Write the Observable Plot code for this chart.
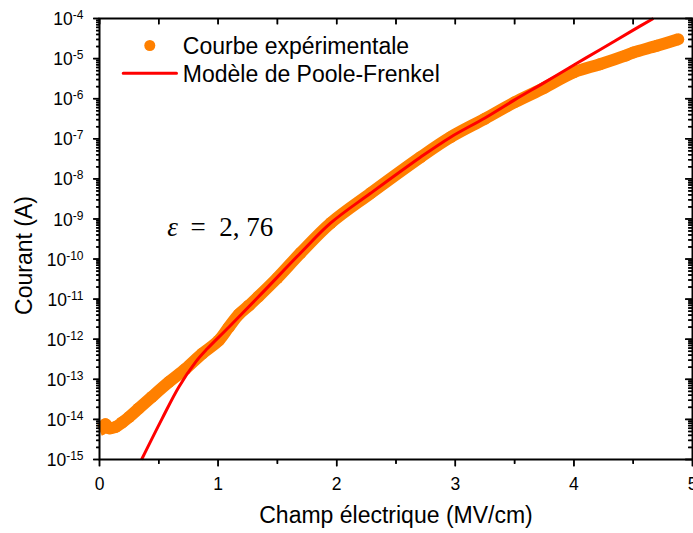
<!DOCTYPE html>
<html><head><meta charset="utf-8">
<script src="https://cdn.jsdelivr.net/npm/d3@7"></script>
<script src="https://cdn.jsdelivr.net/npm/@observablehq/plot@0.6"></script>
<style>html,body{margin:0;padding:0;background:#fff;}</style>
</head><body><div id="chart"></div>
<script>
// Experimental curve: field (MV/cm) and log10 of current (A)
const expE = [0, 0.03, 0.05, 0.08, 0.135, 0.19, 0.25, 0.33, 0.44, 0.584, 0.725, 0.866, 1.006, 1.09, 1.175, 1.26, 1.335, 1.5, 1.695, 1.95, 2.285, 2.706, 2.96, 3.25, 3.5, 3.75, 4.0, 4.22, 4.44, 4.5, 4.7, 4.88];
const expLogI = [-14.27, -14.22, -14.12, -14.22, -14.19, -14.08, -13.94, -13.73, -13.44, -13.07, -12.74, -12.36, -12.03, -11.70, -11.38, -11.16, -10.95, -10.47, -9.85, -9.10, -8.36, -7.46, -6.96, -6.50, -6.09, -5.73, -5.34, -5.14, -4.92, -4.85, -4.68, -4.52];
// Poole-Frenkel model
const pfE = [0.355, 0.528, 0.669, 0.81, 0.908, 1.09, 1.37, 1.695, 1.95, 2.285, 2.706, 2.96, 3.25, 3.5, 3.75, 4.0, 4.22, 4.5, 4.67];
const pfLogI = [-15.0, -13.98, -13.19, -12.57, -12.24, -11.70, -10.85, -9.85, -9.10, -8.36, -7.46, -6.96, -6.48, -6.03, -5.60, -5.16, -4.78, -4.29, -4.0];

const xMajorTicks = [0, 1, 2, 3, 4, 5];
const xMinorTicks = [0.5, 1.5, 2.5, 3.5, 4.5];
const yExponents = [-4, -5, -6, -7, -8, -9, -10, -11, -12, -13, -14, -15];
const yMinorMultipliers = [2, 3, 4, 5, 6, 7, 8, 9];
const legendLabels = ["Courbe expérimentale", "Modèle de Poole-Frenkel"];
const xLabel = "Champ électrique (MV/cm)";
const yLabel = "Courant (A)";
const annotationSymbol = "ε";
const annotationValue = "=\u20022, 76";

const ORANGE = "#ff8000", RED = "#ff0000";
const FW = 593, FH = 441; // frame size in px

const expData = expE.map((e, i) => ({x: e, y: 10 ** expLogI[i]}));
const pfData = pfE.map((e, i) => ({x: e, y: 10 ** pfLogI[i]}));
const yMajor = yExponents.map(k => 10 ** k);
const yMinor = [];
for (let k = -15; k < -4; k++) for (const m of yMinorMultipliers) yMinor.push(m * 10 ** k);
const xAll = [...xMajorTicks, ...xMinorTicks];

const lineShape = {draw(ctx, l) { ctx.moveTo(0, 0); ctx.lineTo(0.01, -l); }};
// filled thin-rectangle tick symbols
const tickDown = L => ({draw(ctx) { ctx.rect(-0.75, 0, 1.5, L); }});
const tickLeft = L => ({draw(ctx) { ctx.rect(-L, -0.75, L, 1.5); }});
const tsy = {fill: "black", stroke: null};
const serif = "'Liberation Serif', 'DejaVu Serif', serif";

const chart = Plot.plot({
  width: 693, height: 533,
  marginLeft: 99, marginRight: 1, marginTop: 18, marginBottom: 74,
  style: {fontFamily: "'Liberation Sans', Arial, sans-serif"},
  x: {domain: [0, 5], label: null, axis: null},
  y: {type: "log", domain: [1e-15, 1e-4], label: null, axis: null},
  marks: [
    Plot.line(expData, {x: "x", y: "y", stroke: ORANGE, strokeWidth: 12, strokeLinecap: "butt", strokeLinejoin: "round", curve: "catmull-rom"}),
    Plot.dot(expData, {x: "x", y: "y", r: 6, fill: ORANGE, filter: d => d.x >= 0.05}),
    Plot.line(pfData, {x: "x", y: "y", stroke: RED, strokeWidth: 3, strokeLinecap: "butt", curve: "catmull-rom"}),
    Plot.frame({stroke: "black", strokeWidth: 2}),
    // ticks (rules)
    Plot.ruleX(xMajorTicks, {x: d => d, insetTop: FH, insetBottom: -7, stroke: "black", strokeWidth: 1.5}),
    Plot.ruleX(xMinorTicks, {x: d => d, insetTop: FH, insetBottom: -4.5, stroke: "black", strokeWidth: 1.5}),
    Plot.ruleX(xAll, {x: d => d, insetTop: 0, insetBottom: FH - 6, stroke: "black", strokeWidth: 1.5}),
    Plot.ruleY(yMajor, {y: d => d, insetLeft: -6, insetRight: FW, stroke: "black", strokeWidth: 1.5}),
    Plot.ruleY(yMinor, {y: d => d, insetLeft: -3, insetRight: FW, stroke: "black", strokeWidth: 1.5}),
    Plot.ruleY(yMajor, {y: d => d, insetLeft: FW - 7, insetRight: 0, stroke: "black", strokeWidth: 1.5}),
    Plot.ruleY(yMinor, {y: d => d, insetLeft: FW - 4, insetRight: 0, stroke: "black", strokeWidth: 1.5}),
    // ticks (filled symbols, same positions)
    Plot.dot(xMajorTicks, {x: d => d, frameAnchor: "bottom", symbol: tickDown(7), ...tsy}),
    Plot.dot(xMinorTicks, {x: d => d, frameAnchor: "bottom", symbol: tickDown(4.5), ...tsy}),
    Plot.dot(xAll, {x: d => d, frameAnchor: "top", symbol: tickDown(6), ...tsy}),
    Plot.dot(yMajor, {y: d => d, frameAnchor: "left", symbol: tickLeft(6), ...tsy}),
    Plot.dot(yMinor, {y: d => d, frameAnchor: "left", symbol: tickLeft(3), ...tsy}),
    Plot.dot(yMajor, {y: d => d, frameAnchor: "right", symbol: tickLeft(7), ...tsy}),
    Plot.dot(yMinor, {y: d => d, frameAnchor: "right", symbol: tickLeft(4), ...tsy}),
    // tick labels
    Plot.axisX(xMajorTicks, {anchor: "bottom", tickSize: 0, tickPadding: 18, tickFormat: d => String(d), fontSize: 17.5, fill: "black", label: null}),
    Plot.axisY(yMajor, {anchor: "left", tickSize: 0, tickPadding: 16, tickFormat: d => "10^" + Math.round(Math.log10(d)), fontSize: 17.5, fill: "black", dy: 1, label: null}),
    // axis titles
    Plot.text([xLabel], {text: d => d, frameAnchor: "bottom", lineAnchor: "bottom", dy: 63, fontSize: 23, fill: "black"}),
    Plot.text([yLabel], {text: d => d, frameAnchor: "left", lineAnchor: "bottom", textAnchor: "middle", rotate: -90, dx: -68, dy: 16.5, fontSize: 23, fill: "black"}),
    // legend
    Plot.dot([0], {frameAnchor: "top-left", dx: 50.3, dy: 27, r: 5.5, fill: ORANGE}),
    Plot.text([legendLabels[0]], {text: d => d, frameAnchor: "top-left", textAnchor: "start", lineAnchor: "bottom", dx: 83.3, dy: 35.3, fontSize: 23, fill: "black"}),
    Plot.vector([0], {frameAnchor: "top-left", dx: 23.7, dy: 54.7, length: 53.3, rotate: 90, anchor: "start", shape: lineShape, stroke: RED, strokeWidth: 3}),
    Plot.text([legendLabels[1]], {text: d => d, frameAnchor: "top-left", textAnchor: "start", lineAnchor: "bottom", dx: 83.3, dy: 63.7, fontSize: 23, fill: "black"}),
    // annotation
    Plot.text([annotationSymbol], {text: d => d, frameAnchor: "top-left", textAnchor: "start", lineAnchor: "bottom", dx: 67.7, dy: 217, fontSize: 27, fontStyle: "italic", fontFamily: serif, fill: "black"}),
    Plot.text([annotationValue], {text: d => d, frameAnchor: "top-left", textAnchor: "start", lineAnchor: "bottom", dx: 91, dy: 217, fontSize: 27, fontFamily: serif, fill: "black"})
  ]
});

// superscript exponents on log tick labels
const NS = "http://www.w3.org/2000/svg";
chart.querySelectorAll("text").forEach(t => {
  const m = /^10\^(-?\d+)$/.exec(t.textContent);
  if (m) {
    t.textContent = "10";
    const ts = document.createElementNS(NS, "tspan");
    ts.setAttribute("dy", "-6");
    ts.setAttribute("font-size", "12");
    ts.textContent = m[1];
    t.appendChild(ts);
  }
});
document.getElementById("chart").appendChild(chart);
</script>
</body></html>
